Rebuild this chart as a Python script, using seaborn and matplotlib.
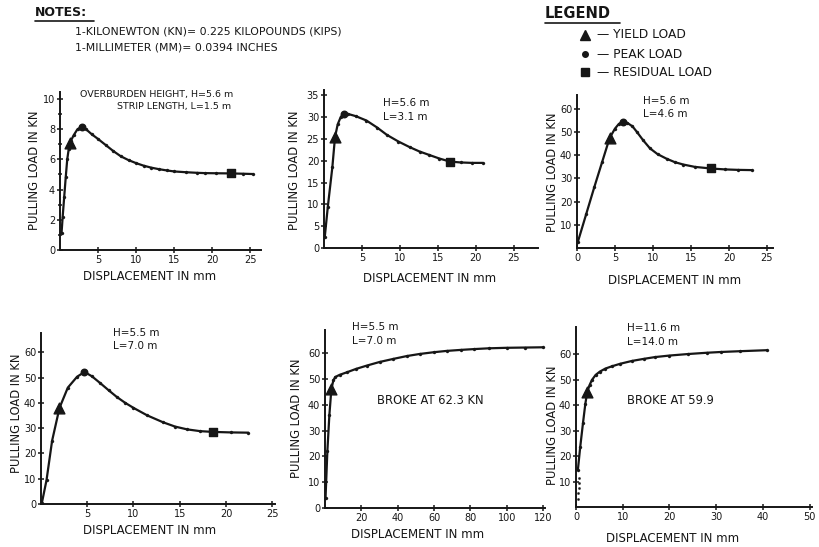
import matplotlib
matplotlib.use("Agg")
import matplotlib.pyplot as plt
from matplotlib.ticker import FixedLocator
import seaborn as sns
import pandas as pd

sns.set_style("white")
plt.rcParams["font.family"] = ["DejaVu Sans"]
plt.rcParams["axes.linewidth"] = 1.4

INK = "#161616"

# ---- pull-out test curves: displacement (mm) vs pulling load (kN) ----
# Test 1: H = 5.6 m, L = 1.5 m
disp_1 = [0.2, 0.35, 0.55, 0.75, 0.95, 1.15, 1.4, 1.8, 2.3, 2.85, 3.4, 4.2, 5.0, 6.0,
          7.0, 8.0, 9.0, 10.0, 11.0, 12.0, 13.0, 14.0, 15.0, 16.5, 18.0, 19.0, 20.5,
          22.4, 24.0, 25.3]
load_1 = [1.1, 2.2, 3.5, 4.8, 6.0, 6.7, 7.2, 7.6, 8.0, 8.15, 8.0, 7.65, 7.35, 6.95,
          6.55, 6.2, 5.95, 5.75, 5.58, 5.45, 5.35, 5.27, 5.2, 5.15, 5.11, 5.09, 5.08,
          5.07, 5.05, 5.03]
yield_1 = (1.25, 7.1)
peak_1 = (2.85, 8.15)
resid_1 = (22.4, 5.07)

# Test 2: H = 5.6 m, L = 3.1 m
disp_2 = [0.1, 0.5, 1.1, 1.45, 1.8, 2.2, 2.6, 3.2, 4.2, 5.6, 7.0, 8.3, 9.8, 11.3, 12.6,
          13.9, 15.2, 16.6, 18.0, 19.5, 20.9]
load_2 = [2.5, 9.4, 18.5, 25.4, 28.3, 30.0, 30.8, 30.7, 30.2, 29.2, 27.6, 25.9, 24.4,
          23.1, 22.1, 21.3, 20.5, 19.8, 19.6, 19.5, 19.5]
yield_2 = (1.45, 25.4)
peak_2 = (2.6, 30.8)
resid_2 = (16.6, 19.8)

# Test 3: H = 5.6 m, L = 4.6 m
disp_3 = [0.1, 1.2, 2.3, 3.3, 4.3, 5.0, 5.5, 6.0, 6.6, 7.3, 7.9, 8.7, 9.6, 10.6, 11.8,
          12.9, 14.0, 15.5, 17.6, 19.5, 21.2, 23.0]
load_3 = [2.5, 14.5, 26.5, 37.0, 47.5, 51.5, 53.5, 54.5, 54.0, 52.5, 50.0, 46.5, 43.0,
          40.5, 38.5, 37.0, 36.0, 35.0, 34.3, 33.9, 33.7, 33.6]
yield_3 = (4.3, 47.5)
peak_3 = (6.0, 54.5)
resid_3 = (17.6, 34.3)

# Test 4: H = 5.5 m, L = 7.0 m
disp_4 = [0.1, 0.6, 1.2, 2.0, 2.9, 3.9, 4.7, 5.5, 6.4, 7.3, 8.2, 9.1, 10.0, 11.5, 13.2,
          14.5, 15.8, 17.2, 18.6, 20.5, 22.4]
load_4 = [0.5, 9.5, 25.0, 38.0, 46.0, 50.3, 52.2, 50.5, 47.8, 45.0, 42.3, 40.0, 38.0,
          35.0, 32.3, 30.6, 29.5, 28.8, 28.5, 28.3, 28.2]
yield_4 = (2.0, 38.0)
peak_4 = (4.7, 52.2)
resid_4 = (18.6, 28.5)

# Test 5: H = 5.5 m, L = 7.0 m (strip broke)
disp_5 = [0.3, 1.3, 2.4, 3.5, 4.6, 5.7, 8.0, 12.0, 17.0, 23.0, 30.0, 37.6, 45.0, 52.0,
          60.0, 67.0, 75.0, 82.0, 90.0, 100.0, 110.0, 120.0]
load_5 = [4.0, 22.0, 36.0, 46.0, 49.5, 50.8, 51.6, 52.6, 53.9, 55.2, 56.6, 57.8, 58.9,
          59.7, 60.4, 60.9, 61.3, 61.6, 61.9, 62.1, 62.2, 62.3]
yield_5 = (3.5, 46.0)

# Test 6: H = 11.6 m, L = 14.0 m (strip broke)
disp_6 = [0.4, 0.9, 1.5, 2.0, 2.4, 2.9, 3.4, 4.2, 5.1, 6.3, 7.7, 9.5, 12.0, 14.5, 16.9,
          20.0, 24.0, 28.0, 31.0, 35.0, 40.8]
load_6 = [14.5, 23.5, 33.0, 40.5, 45.0, 47.8, 49.8, 51.8, 53.1, 54.3, 55.2, 56.2, 57.3,
          58.1, 58.8, 59.4, 60.0, 60.5, 60.8, 61.1, 61.5]
yield_6 = (2.4, 45.0)
# scattered readings below the first loaded point
early_disp_6 = [0.45, 0.5, 0.55, 0.6, 0.7]
early_load_6 = [3.0, 5.5, 7.5, 9.5, 11.5]

# text
notes_title = "NOTES:"
notes_lines = ["1-KILONEWTON (KN)= 0.225 KILOPOUNDS (KIPS)",
               "1-MILLIMETER (MM)= 0.0394 INCHES"]
legend_title = "LEGEND"
legend_items = ["YIELD LOAD", "PEAK LOAD", "RESIDUAL LOAD"]
ylab = "PULLING LOAD IN KN"
xlab = "DISPLACEMENT IN mm"

W, H = 820, 547
fig = plt.figure(figsize=(W / 100, H / 100), dpi=100)
fig.patch.set_facecolor("white")


def box(l, t, r, b):
    return [l / W, 1 - b / H, (r - l) / W, (b - t) / H]


def ftext(x, y, s, **kw):
    kw.setdefault("color", INK)
    kw.setdefault("fontsize", 7.5)
    kw.setdefault("va", "center")
    fig.text(x / W, 1 - y / H, s, **kw)


def panel(rect, disp, load, xlim, ylim, xt, yt, yminor=None,
          yld=None, pk=None, res=None, early=None):
    ax = fig.add_axes(box(*rect))
    df = pd.DataFrame({"disp": disp, "load": load})
    sns.lineplot(data=df, x="disp", y="load", sort=False, estimator=None,
                 color=INK, lw=1.6, ax=ax)
    sns.scatterplot(data=df, x="disp", y="load", color=INK, s=5,
                    edgecolor=None, ax=ax, zorder=3)
    if early is not None:
        sns.scatterplot(x=early[0], y=early[1], color=INK, s=3,
                        edgecolor=None, ax=ax, zorder=3)
    if yld is not None:
        ax.scatter([yld[0]], [yld[1]], marker="^", s=60, color=INK, zorder=4)
    if pk is not None:
        ax.scatter([pk[0]], [pk[1]], marker="o", s=22, color=INK, zorder=4)
    if res is not None:
        ax.scatter([res[0]], [res[1]], marker="s", s=40, color=INK, zorder=4)
    ax.set_xlim(*xlim)
    ax.set_ylim(*ylim)
    ax.set_xticks(xt)
    ax.set_yticks(yt)
    if yminor is not None:
        ax.yaxis.set_minor_locator(FixedLocator(yminor))
    ax.tick_params(which="both", direction="inout", length=4, width=1.1,
                   labelsize=7, pad=1.5, colors=INK, left=True, bottom=True)
    ax.tick_params(which="minor", length=2.5)
    for s in ("top", "right"):
        ax.spines[s].set_visible(False)
    for s in ("left", "bottom"):
        ax.spines[s].set_color(INK)
    ax.set_xlabel("")
    ax.set_ylabel("")
    ax.set_facecolor("none")
    return ax


panel((60, 92, 261, 250), disp_1, load_1, (0, 26.4), (0, 10.46),
      [5, 10, 15, 20, 25], [0, 2, 4, 6, 8, 10], yminor=[1, 3, 5, 7, 9],
      yld=yield_1, pk=peak_1, res=resid_1)
panel((324, 90, 538, 248), disp_2, load_2, (0, 28.2), (0, 36.2),
      [5, 10, 15, 20, 25], [0, 5, 10, 15, 20, 25, 30, 35],
      yld=yield_2, pk=peak_2, res=resid_2)
panel((577, 95, 773, 248), disp_3, load_3, (0, 25.8), (0, 66),
      [0, 5, 10, 15, 20, 25], [10, 20, 30, 40, 50, 60],
      yld=yield_3, pk=peak_3, res=resid_3)
panel((41, 333, 275, 504), disp_4, load_4, (0, 25.3), (0, 67.6),
      [5, 10, 15, 20, 25], [0, 10, 20, 30, 40, 50, 60],
      yld=yield_4, pk=peak_4, res=resid_4)
panel((325, 330, 545, 508), disp_5, load_5, (0, 121), (0, 69),
      [20, 40, 60, 80, 100, 120], [0, 10, 20, 30, 40, 50, 60],
      yld=yield_5)
panel((576, 327, 812, 507), disp_6, load_6, (0, 50.5), (0, 70.6),
      [0, 10, 20, 30, 40, 50], [10, 20, 30, 40, 50, 60],
      yld=yield_6, early=(early_disp_6, early_load_6))

# axis titles
for (x, y) in [(35, 170), (295, 170), (552, 172), (17, 413), (297, 418), (552, 425)]:
    ftext(x, y, ylab, rotation=90, ha="center", fontsize=8.3)
for (x, y) in [(150, 276), (430, 278), (675, 280), (150, 531), (418, 534), (673, 539)]:
    ftext(x, y, xlab, ha="center", fontsize=8.5)

# test descriptions
ftext(80, 94, "OVERBURDEN HEIGHT, H=5.6 m", ha="left", fontsize=6.8)
ftext(117, 106, "STRIP LENGTH, L=1.5 m", ha="left", fontsize=6.8)
ftext(383, 103, "H=5.6 m", ha="left")
ftext(383, 117, "L=3.1 m", ha="left")
ftext(643, 101, "H=5.6 m", ha="left")
ftext(643, 114, "L=4.6 m", ha="left")
ftext(113, 333, "H=5.5 m", ha="left")
ftext(113, 346, "L=7.0 m", ha="left")
ftext(352, 327, "H=5.5 m", ha="left")
ftext(352, 341, "L=7.0 m", ha="left")
ftext(627, 328, "H=11.6 m", ha="left")
ftext(627, 342, "L=14.0 m", ha="left")
ftext(377, 400, "BROKE AT 62.3 KN", ha="left", fontsize=8.3)
ftext(627, 400, "BROKE AT 59.9", ha="left", fontsize=8.3)

# notes block
ftext(35, 13, notes_title, ha="left", fontsize=9, fontweight="bold")
fig.add_artist(plt.Line2D([35 / W, 94 / W], [1 - 21 / H, 1 - 21 / H], color=INK, lw=1.2))
ftext(75, 32, notes_lines[0], ha="left", fontsize=7.8)
ftext(75, 47, notes_lines[1], ha="left", fontsize=7.8)

# legend block
ftext(545, 13, legend_title, ha="left", fontsize=10.5, fontweight="bold")
fig.add_artist(plt.Line2D([545 / W, 620 / W], [1 - 23 / H, 1 - 23 / H], color=INK, lw=1.2))
for mk, ms, lbl, y in zip(["^", "o", "s"], [6.5, 4, 5.5], legend_items, [35, 54, 72]):
    fig.add_artist(plt.Line2D([585 / W], [1 - y / H], marker=mk, markersize=ms,
                              color=INK, linestyle="none"))
    ftext(597, y, "\u2014 " + lbl, ha="left", fontsize=8.8)

fig.savefig("out.png", dpi=100, facecolor="white")
